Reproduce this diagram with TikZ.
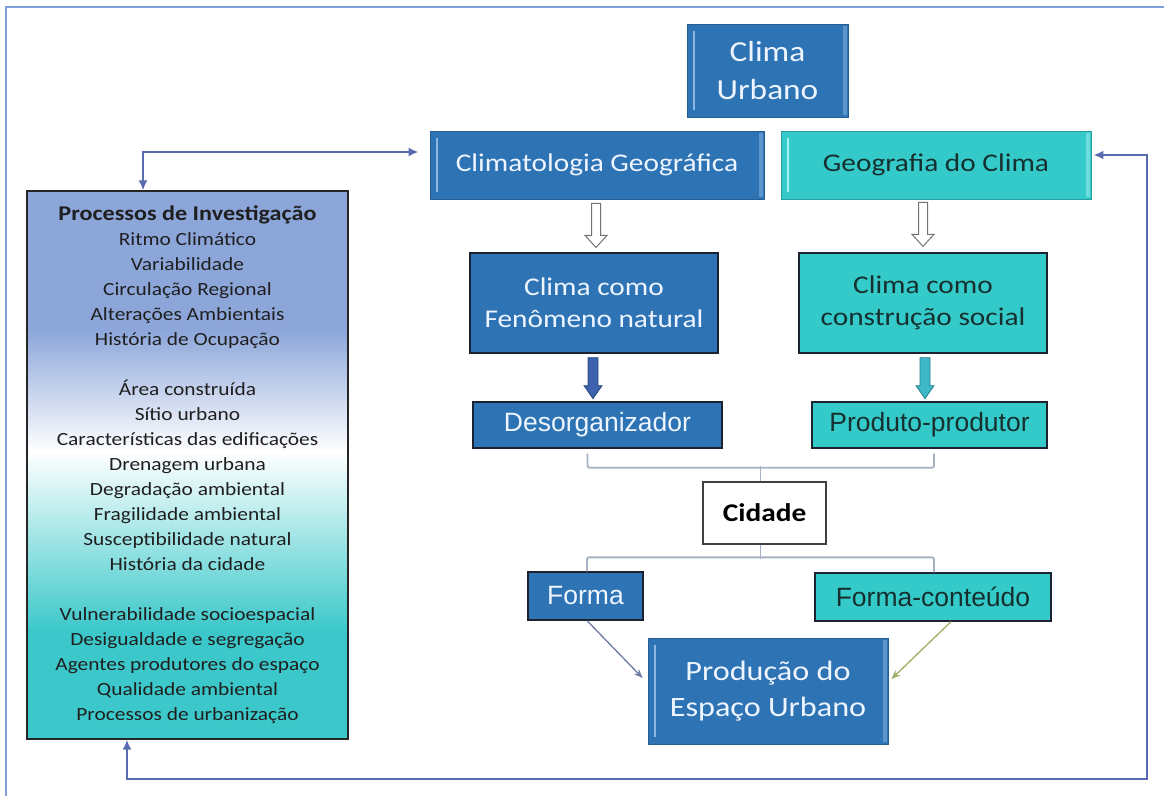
\documentclass[tikz,border=0pt]{standalone}
\usepackage{fontspec}
\setmainfont{Carlito}
\newfontfamily\calfont[FakeStretch=1.15]{Carlito}
\newfontfamily\arfont{Liberation Sans}
\usetikzlibrary{arrows.meta,calc,backgrounds}
\definecolor{pblue}{HTML}{2E74B5}
\definecolor{pteal}{HTML}{35CACA}
\definecolor{bluedark}{HTML}{275F95}
\definecolor{tealdark}{HTML}{2A9E9E}
\definecolor{bluelite}{HTML}{8DB6E3}
\definecolor{teallite}{HTML}{A6F0F0}
\definecolor{edgedark}{HTML}{1C2230}
\definecolor{txtlight}{HTML}{EEF5FF}
\definecolor{txtdark}{HTML}{16302F}
\definecolor{cblue}{HTML}{8CA6DA}
\definecolor{cteal}{HTML}{3CC8CA}
\definecolor{loopc}{HTML}{5A6CB0}
\definecolor{framec}{HTML}{7F9FDA}
\definecolor{brk}{HTML}{A6B2C3}
\definecolor{formaarr}{HTML}{6C7BA6}
\definecolor{contarr}{HTML}{A0AE68}
\definecolor{sarrblue}{HTML}{3E63AE}
\definecolor{sarrteal}{HTML}{3CB8C8}
\begin{document}
\begin{tikzpicture}[x=1pt,y=-1pt,
  every node/.style={inner sep=0pt, align=center},
  flatblue/.style={fill=pblue, draw=edgedark, line width=1.3pt, text=txtlight},
  flatteal/.style={fill=pteal, draw=edgedark, line width=1.3pt, text=txtdark},
  bevelbox/.style={path picture={
     \draw[line width=2.5pt, #1] ([xshift=7pt,yshift=-7pt]path picture bounding box.north west) -- ([xshift=7pt,yshift=7pt]path picture bounding box.south west);
     \fill[#1, opacity=0.5] ([xshift=-5pt,yshift=-2pt]path picture bounding box.north east) rectangle ([xshift=-1pt,yshift=2pt]path picture bounding box.south east);}},
  bluebevel/.style={fill=pblue, draw=bluedark, line width=0.8pt, text=txtlight, bevelbox=bluelite},
  tealbevel/.style={fill=pteal, draw=tealdark, line width=0.8pt, text=txtdark, bevelbox=teallite},
  cfont/.style={font=\calfont\fontsize{25.5}{32}\selectfont},
  afont/.style={font=\arfont\fontsize{26.5}{32}\selectfont},
  hollowarr/.style={fill=white, draw=black!55, line width=1pt},
  solidblue/.style={fill=sarrblue, draw=sarrblue!70!black, line width=0.8pt},
  solidteal/.style={fill=sarrteal, draw=sarrteal!70!black, line width=0.8pt},
  bracketln/.style={draw=brk, line width=1.8pt, rounded corners=2pt},
  loopln/.style={draw=loopc, line width=2.4pt, {Latex[length=10pt,width=9pt]}-{Latex[length=10pt,width=9pt]}},
  thinarr/.style={line width=1.3pt, -{Stealth[length=9pt,width=7pt]}}
]
\useasboundingbox (0,0) rectangle (1164,796);
% frame
\draw[framec, line width=1.4pt] (1164,7) -| (6,796);

% nodes
\node[bluebevel, minimum width=161pt, minimum height=93pt, font=\calfont\fontsize{29}{38}\selectfont] (climaurb) at (767.5,70.5) {Clima\\Urbano};
\node[bluebevel, cfont, minimum width=334pt, minimum height=68pt] (climgeo) at (597,165) {Climatologia Geográfica};
\node[tealbevel, cfont, minimum width=310pt, minimum height=68pt] (geoclima) at (936,165) {Geografia do Clima};
\node[flatblue, cfont, minimum width=248pt, minimum height=100pt] (fenom) at (594,303) {Clima como\\Fenômeno natural};
\node[flatteal, cfont, minimum width=248pt, minimum height=100pt] (social) at (923,303) {Clima como\\construção social};
\node[flatblue, afont, minimum width=249pt, minimum height=46pt] (desorg) at (597.5,425) {Desorganizador};
\node[flatteal, afont, minimum width=235pt, minimum height=46pt] (prodprod) at (929.5,425) {Produto-produtor};
\node[fill=white, draw=black!75, line width=1.3pt, text=black, minimum width=123pt, minimum height=62pt, font=\calfont\fontsize{25.5}{30}\selectfont\bfseries] (cidade) at (764.5,513) {Cidade};
\node[flatblue, afont, minimum width=115pt, minimum height=48pt] (forma) at (585.5,596) {Forma};
\node[flatteal, afont, minimum width=236pt, minimum height=48pt] (formacont) at (933,597) {Forma-conteúdo};
\node[bluebevel, minimum width=240pt, minimum height=106pt, font=\calfont\fontsize{28}{36}\selectfont] (producao) at (768,691) {Produção do\\Espaço Urbano};

% left box
\node[draw=black!85, line width=1.2pt, minimum width=321pt, minimum height=548pt, text=black!88, font=\calfont\fontsize{18.6}{25}\selectfont] (proc) at (187.5,465)
{{\fontsize{21}{25}\selectfont\bfseries Processos de Investigação}\\
Ritmo Climático\\
Variabilidade\\
Circulação Regional\\
Alterações Ambientais\\
História de Ocupação\\[25pt]
Área construída\\
Sítio urbano\\
Características das edificações\\
Drenagem urbana\\
Degradação ambiental\\
Fragilidade ambiental\\
Susceptibilidade natural\\
História da cidade\\[25pt]
Vulnerabilidade socioespacial\\
Desigualdade e segregação\\
Agentes produtores do espaço\\
Qualidade ambiental\\
Processos de urbanização};
\begin{scope}[on background layer]
\fill[white] (0,0) rectangle (1164,796);
\fill[cblue] (proc.north west) rectangle ($(proc.north east)+(0,140)$);
\shade[top color=cblue, bottom color=white] ($(proc.north west)+(0,139)$) rectangle ($(proc.north east)+(0,262)$);
\shade[top color=white, bottom color=cteal] ($(proc.north west)+(0,261)$) rectangle ($(proc.north east)+(0,440)$);
\fill[cteal] ($(proc.north west)+(0,439)$) rectangle (proc.south east);
\end{scope}

% hollow arrows
\draw[hollowarr] ($(climgeo.south)+(-1,4)$) ++(-4.5,0) -- ++(0,32) -- ++(-6.5,0) -- ++(11,12) -- ++(11,-12) -- ++(-6.5,0) -- ++(0,-32) -- cycle;
\draw[hollowarr] ($(social.north)+(0,-50)$) ++(-4.5,0) -- ++(0,32) -- ++(-6.5,0) -- ++(11,12) -- ++(11,-12) -- ++(-6.5,0) -- ++(0,-32) -- cycle;

% solid arrows
\draw[solidblue] ($(fenom.south)+(-1,4)$) ++(-5,0) -- ++(0,28) -- ++(-4,0) -- ++(9,13) -- ++(9,-13) -- ++(-4,0) -- ++(0,-28) -- cycle;
\draw[solidteal] ($(social.south)+(2,4)$) ++(-5,0) -- ++(0,28) -- ++(-4,0) -- ++(9,13) -- ++(9,-13) -- ++(-4,0) -- ++(0,-28) -- cycle;

% brackets
\draw[bracketln] ($(desorg.south)+(-10,5)$) -- ++(0,14) -| ($(prodprod.south)+(4.5,5)$);
\draw[bracketln] ($(cidade.north)+(-4,0)$) -- ++(0,-15);
\draw[bracketln] ($(forma.north)+(1.5,0)$) -- ++(0,-14) -| ($(formacont.north)+(1,0)$);
\draw[bracketln] ($(cidade.south)+(-4,0)$) -- ++(0,14);

% thin arrows
\draw[thinarr, formaarr] ($(forma.south)+(1.5,0)$) -- ($(producao.west)+(-5,-13)$);
\draw[thinarr, contarr] ($(formacont.south)+(18,0)$) -- ($(producao.east)+(3,-12)$);

% loops
\coordinate (corner) at (1147,779);
\draw[loopln] ($(proc.north)+(-44.5,0)$) |- ($(climgeo.west)+(-11,-13)$);
\draw[loopln] ($(proc.south)+(-60.5,0)$) |- (corner) |- ($(geoclima.east)+(2,-10)$);
\end{tikzpicture}
\end{document}
